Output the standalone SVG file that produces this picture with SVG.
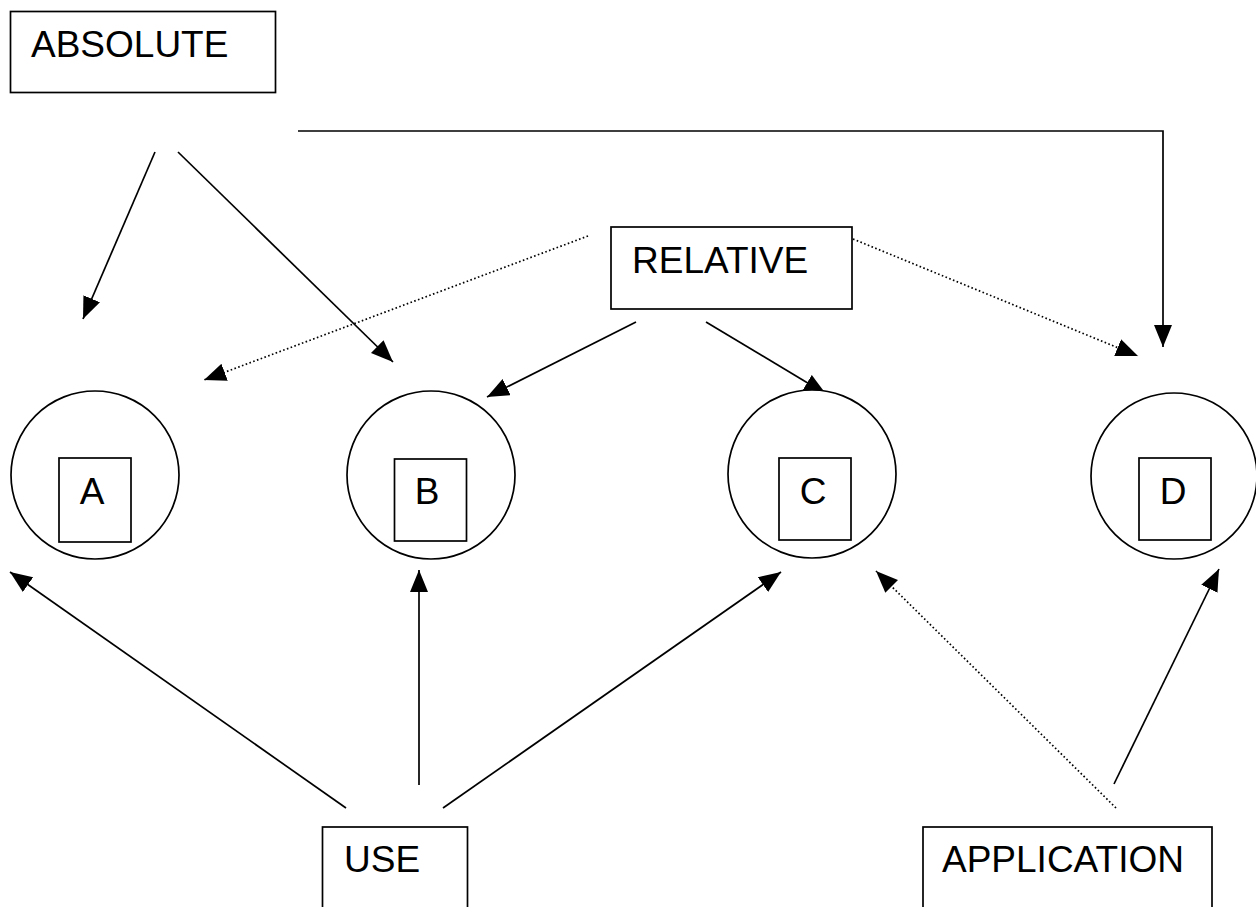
<svg xmlns="http://www.w3.org/2000/svg" width="1256" height="907" viewBox="0 0 1256 907">
<style>
.box{fill:#fff;stroke:#000;stroke-width:1.7}
.circ{fill:#fff;stroke:#000;stroke-width:1.7}
.lbl{font-family:"Liberation Sans",Arial,sans-serif;font-size:37px;fill:#000}
.ln{fill:none;stroke:#000;stroke-width:1.7}
.dot{fill:none;stroke:#000;stroke-width:1.7;stroke-dasharray:1.6 2.4}
</style>
<defs>
<marker id="ah" markerUnits="userSpaceOnUse" markerWidth="24" markerHeight="20" refX="22" refY="9" orient="auto">
<path d="M0,0 L22,9 L0,18 z" fill="#000"/>
</marker>
</defs>
<rect width="1256" height="907" fill="#fff"/>
<g id="connectors">
<line class="ln" x1="155" y1="152" x2="83" y2="319" marker-end="url(#ah)"/>
<line class="ln" x1="178" y1="152" x2="393" y2="362" marker-end="url(#ah)"/>
<polyline class="ln" points="298,131 1163,131 1163,347" marker-end="url(#ah)"/>
<line class="dot" x1="588" y1="236" x2="204" y2="380" marker-end="url(#ah)"/>
<line class="dot" x1="853" y1="239" x2="1138" y2="356" marker-end="url(#ah)"/>
<line class="ln" x1="636" y1="322" x2="487" y2="397" marker-end="url(#ah)"/>
<line class="ln" x1="706" y1="322" x2="826" y2="394" marker-end="url(#ah)"/>
<line class="ln" x1="346" y1="808" x2="10" y2="572" marker-end="url(#ah)"/>
<line class="ln" x1="419" y1="785" x2="419" y2="570" marker-end="url(#ah)"/>
<line class="ln" x1="443" y1="808" x2="781" y2="572" marker-end="url(#ah)"/>
<line class="dot" x1="1116" y1="808" x2="876" y2="571" marker-end="url(#ah)"/>
<line class="ln" x1="1114" y1="784" x2="1219" y2="569" marker-end="url(#ah)"/>
</g>
<g id="absolute">
<rect class="box" x="10.5" y="11.5" width="265" height="81"/>
<text class="lbl" x="31" y="57">ABSOLUTE</text>
</g>
<g id="relative">
<rect class="box" x="611" y="227" width="241" height="82"/>
<text class="lbl" x="632" y="273">RELATIVE</text>
</g>
<g id="nodeA">
<circle class="circ" cx="95" cy="475" r="84"/>
<rect class="box" x="59" y="458" width="72" height="84"/>
<text class="lbl" x="92" y="504" text-anchor="middle">A</text>
</g>
<g id="nodeB">
<circle class="circ" cx="431" cy="475" r="84"/>
<rect class="box" x="394.5" y="459" width="72" height="82"/>
<text class="lbl" x="427" y="504" text-anchor="middle">B</text>
</g>
<g id="nodeC">
<circle class="circ" cx="812" cy="474" r="84"/>
<rect class="box" x="779" y="458" width="72" height="82"/>
<text class="lbl" x="813" y="504" text-anchor="middle">C</text>
</g>
<g id="nodeD">
<circle class="circ" cx="1174" cy="476" r="83"/>
<rect class="box" x="1139" y="458" width="72" height="82"/>
<text class="lbl" x="1173" y="504" text-anchor="middle">D</text>
</g>
<g id="use">
<rect class="box" x="322.5" y="827" width="145" height="100"/>
<text class="lbl" x="344" y="872">USE</text>
</g>
<g id="application">
<rect class="box" x="923" y="827" width="289" height="100"/>
<text class="lbl" x="942" y="872">APPLICATION</text>
</g>
</svg>
